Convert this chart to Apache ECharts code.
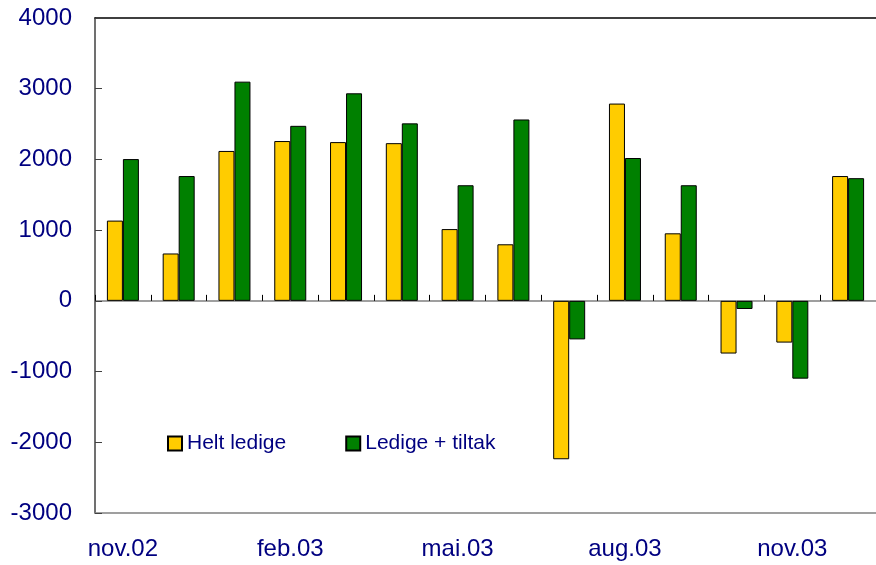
<!DOCTYPE html>
<html><head><meta charset="utf-8">
<script src="https://cdn.jsdelivr.net/npm/echarts@6/dist/echarts.min.js"></script>
<style>html,body{margin:0;padding:0;background:#fff}#c{width:876px;height:565px}</style>
</head><body><div id="c"></div>
<script>
const categories = ['nov.02','des.02','jan.03','feb.03','mar.03','apr.03','mai.03','jun.03','jul.03','aug.03','sep.03','okt.03','nov.03','des.03'];
const heltLedige = [1135, 670, 2120, 2260, 2245, 2230, 1015, 800, -2240, 2790, 955, -745, -590, 1765];
const ledigeTiltak = [2005, 1765, 3100, 2475, 2935, 2510, 1635, 2565, -545, 2020, 1635, -115, -1100, 1735];
const yTicks = {min: -3000, max: 4000, interval: 1000};

const font = 'Liberation Sans, Arial, sans-serif';
const navy = '#000080';
const chart = echarts.init(document.getElementById('c'), null, {renderer: 'canvas'});
chart.setOption({
  animation: false,
  grid: {left: 95, top: 18, width: 786, height: 495, containLabel: false},
  legend: {
    left: 167, top: 433, padding: 0, itemWidth: 14, itemHeight: 14, itemGap: 59,
    textStyle: {color: navy, fontSize: 21, fontFamily: font},
    icon: 'rect',
    data: ['Helt ledige', 'Ledige + tiltak']
  },
  xAxis: [{
    type: 'category', data: categories, position: 'bottom',
    axisLine: {onZero: true, lineStyle: {color: '#808080', width: 1.5}},
    axisTick: {show: true, inside: true, length: 6, lineStyle: {color: '#000'}},
    axisLabel: {show: false}
  }, {
    type: 'category', data: categories, position: 'bottom',
    axisLine: {onZero: false, lineStyle: {color: '#808080', width: 1.5}},
    axisTick: {show: false},
    axisLabel: {interval: 2, color: navy, fontSize: 24, fontFamily: font, margin: 24}
  }, {
    type: 'category', data: categories, position: 'top',
    axisLine: {onZero: false, lineStyle: {color: '#000', width: 1.5}},
    axisTick: {show: false},
    axisLabel: {show: false}
  }],
  yAxis: {
    type: 'value', min: yTicks.min, max: yTicks.max, interval: yTicks.interval,
    axisLine: {show: true, lineStyle: {color: '#404040', width: 1.5}},
    axisTick: {show: true, inside: true, length: 7, lineStyle: {color: '#404040'}},
    splitLine: {show: false},
    axisLabel: {color: navy, fontSize: 24, fontFamily: font, margin: 23, formatter: v => String(v)}
  },
  series: [{
    name: 'Helt ledige', type: 'bar', data: heltLedige, barWidth: 16, barGap: '0%',
    itemStyle: {color: '#FFCC00', borderColor: '#000', borderWidth: 1}
  }, {
    name: 'Ledige + tiltak', type: 'bar', data: ledigeTiltak, barWidth: 16, barGap: '0%',
    itemStyle: {color: '#008000', borderColor: '#000', borderWidth: 1}
  }]
});
</script></body></html>
